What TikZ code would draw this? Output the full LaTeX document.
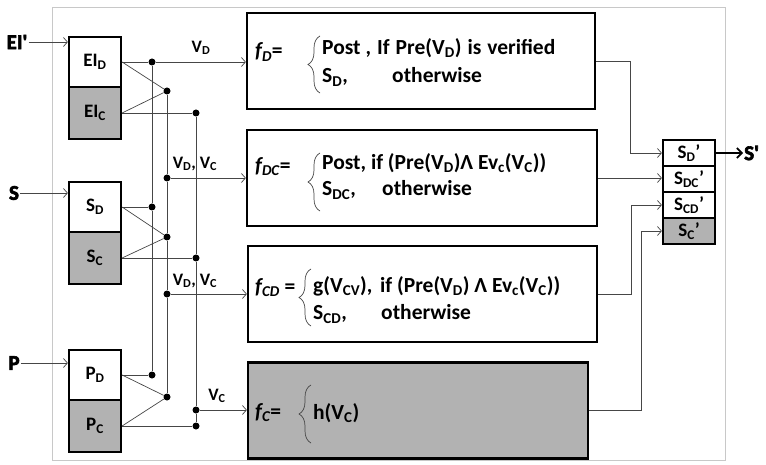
\documentclass[tikz,border=0pt]{standalone}
\usepackage{fontspec}
\setmainfont{Carlito}
\newfontfamily\heavyfont{Carlito}[FakeBold=3]
\usetikzlibrary{arrows.meta, positioning, decorations.pathreplacing}
\definecolor{gray1}{RGB}{178,178,178}
\definecolor{frame1}{RGB}{200,200,200}
\definecolor{wire1}{RGB}{70,70,70}
\newcommand{\sbs}[1]{\textsubscript{#1}}
\newcommand{\fn}[1]{\textit{f\textsubscript{#1}}}

\begin{document}
\begin{tikzpicture}[x=1pt, y=-1pt,
    every node/.style={font=\bfseries\fontsize{19}{22}\selectfont, inner sep=0pt},
    frame/.style={draw=frame1, line width=0.8pt, minimum width=673pt, minimum height=453pt},
    halfd/.style={draw, line width=2.2pt, fill=white, minimum width=52pt, minimum height=50pt},
    halfc/.style={halfd, fill=gray1, minimum height=52pt},
    func/.style={draw, line width=2.2pt, fill=white, minimum height=96pt},
    ftext/.style={anchor=west, font=\bfseries\fontsize{21.5}{24}\selectfont},
    outcell/.style={draw, line width=2.2pt, fill=white, minimum width=52pt, minimum height=26pt, font=\bfseries\fontsize{19}{19}\selectfont},
    dot/.style={circle, fill=black, minimum size=7pt},
    wire/.style={draw=wire1, line width=0.7pt},
    sigarrow/.style={wire, -{Straight Barb[length=4pt,width=9pt]}},
    brace1/.style={draw=wire1, line width=0.7pt, decorate, decoration={brace, amplitude=12pt}},
    inlabel/.style={font=\heavyfont\bfseries\fontsize{21}{21}\selectfont, inner sep=1pt},
    vlabel/.style={font=\bfseries\fontsize{17.5}{17.5}\selectfont}
]
    \useasboundingbox (0,0) rectangle (766,465);
    \node[frame, name=outer] at(388.5,233.5) {};

    \node[halfd, name=ElD] at(95,62) {EI\sbs{D}};
    \node[halfc, name=ElC] at(95,113) {EI\sbs{C}};
    \node[halfd, name=SD] at(95,207) {S\sbs{D}};
    \node[halfc, name=SC] at(95,258) {S\sbs{C}};
    \node[halfd, name=PD] at(95,375) {P\sbs{D}};
    \node[halfc, name=PC] at(95,426) {P\sbs{C}};

    \node[inlabel, name=inEl] at(17,42) {EI'};
    \node[inlabel, name=inS] at(14,193) {S};
    \node[inlabel, name=inP] at(14,363) {P};

    \node[dot, name=dEl1] at(152,62) {};
    \node[dot, name=dEl2] at(167,91) {};
    \node[dot, name=dEl3] at(196,113) {};
    \node[dot, name=dV1] at(167,178) {};
    \node[dot, name=dS1] at(152,207) {};
    \node[dot, name=dS2] at(167,237) {};
    \node[dot, name=dS3] at(196,258) {};
    \node[dot, name=dV2] at(167,294) {};
    \node[dot, name=dP1] at(152,375) {};
    \node[dot, name=dP2] at(167,397) {};
    \node[dot, name=dV3] at(196,410) {};
    \node[dot, name=dP3] at(196,426) {};

    \node[vlabel, name=lD] at(201,48) {V\sbs{D}};
    \node[vlabel, name=lDC] at(195,164) {V\sbs{D}, V\sbs{C}};
    \node[vlabel, name=lCD] at(195,281) {V\sbs{D}, V\sbs{C}};
    \node[vlabel, name=lC] at(217,396) {V\sbs{C}};

    \node[func, minimum width=348pt, name=fD] at(421,61) {};
    \node[func, minimum width=350pt, name=fDC] at(422,178) {};
    \node[func, minimum width=349pt, name=fCD] at(422.5,294) {};
    \node[func, minimum width=340pt, fill=gray1, name=fC] at(418,410.5) {};

    \node[ftext, name=fDname] at(255,52) {\fn{D}=};
    \node[ftext, name=fDa] at(322,48) {\makebox[55pt][l]{Post ,}{\spaceskip=6pt If Pre(V\sbs{D}) is verified}};
    \node[ftext, name=fDb] at(322,77) {\makebox[70pt][l]{S\sbs{D},}otherwise};
    \draw[brace1] (320,93) -- (320,36);

    \node[ftext, name=fDCname] at(255,167) {\fn{DC}=};
    \node[ftext, name=fDCa] at(322,163) {Post, if (Pre(V\sbs{D})Λ Ev\sbs{c}(V\sbs{C}))};
    \node[ftext, name=fDCb] at(322,190) {\makebox[60pt][l]{S\sbs{DC},}otherwise};
    \draw[brace1] (320,211) -- (320,153);

    \node[ftext, name=fCDname] at(255,288) {\fn{CD} =};
    \node[ftext, name=fCDa] at(313,286) {\makebox[67pt][l]{g(V\sbs{CV}),}if (Pre(V\sbs{D}) Λ Ev\sbs{c}(V\sbs{C}))};
    \node[ftext, name=fCDb] at(313,314) {\makebox[68pt][l]{S\sbs{CD},}otherwise};
    \draw[brace1] (311,326) -- (311,269);

    \node[ftext, name=fCname] at(255,413) {\fn{C}=};
    \node[ftext, name=fCa] at(313,413) {h(V\sbs{C})};
    \draw[brace1] (311,443) -- (311,385);

    \node[outcell, name=SDp] at(689,153) {S\sbs{D}'};
    \node[outcell, name=SDCp] at(689,179) {S\sbs{DC}'};
    \node[outcell, name=SCDp] at(689,205) {S\sbs{CD}'};
    \node[outcell, fill=gray1, name=SCp] at(689,231) {S\sbs{C}'};
    \node[inlabel, anchor=west, name=Sout] at(743,153) {S'};

    \draw[sigarrow] (inEl) -- (inEl -| ElD.west);
    \draw[sigarrow] (inS) -- (inS -| SD.west);
    \draw[sigarrow] (inP) -- (inP -| PD.west);

    \draw[wire] (ElD.east) -- (dEl1);
    \draw[wire] (ElD.east) -- (dEl2);
    \draw[wire] (ElC.east) -- (dEl2);
    \draw[wire] (ElC.east) -- (dEl3);
    \draw[wire] (SD.east) -- (dS1);
    \draw[wire] (SD.east) -- (dS2);
    \draw[wire] (SC.east) -- (dS2);
    \draw[wire] (SC.east) -- (dS3);
    \draw[wire] (PD.east) -- (dP1);
    \draw[wire] (PD.east) -- (dP2);
    \draw[wire] (PC.east) -- (dP2);
    \draw[wire] (PC.east) -- (dP3);

    \draw[wire] (dEl1) -- (dS1) -- (dP1);
    \draw[wire] (dEl2) -- (dV1) -- (dS2) -- (dV2) -- (dP2);
    \draw[wire] (dEl3) -- (dS3) -- (dV3) -- (dP3);

    \draw[sigarrow] (dEl1) -- (dEl1 -| fD.west);
    \draw[sigarrow] (dV1) -- (dV1 -| fDC.west);
    \draw[sigarrow] (dV2) -- (dV2 -| fCD.west);
    \draw[sigarrow] (dV3) -- (dV3 -| fC.west);

    \draw[sigarrow] (fD.east) -- ++(34,0) |- (SDp.west);
    \draw[sigarrow] (fDC.east) -- (fDC.east -| SDCp.west);
    \draw[sigarrow] (fCD.east) -- ++(33,0) |- (SCDp.west);
    \draw[sigarrow] (fC.east) -- ++(52,0) |- (SCp.west);

    \draw[-{Straight Barb[length=5pt,width=10pt]}, line width=1.6pt] (SDp.east) -- (Sout);
\end{tikzpicture}
\end{document}
